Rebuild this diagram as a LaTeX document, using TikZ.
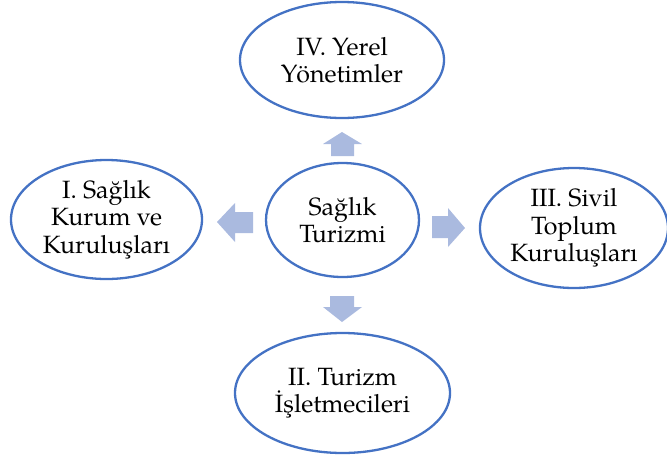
\documentclass[tikz,border=0pt]{standalone}
\usepackage{fontspec}
\setmainfont{texgyrepagella}[Extension=.otf,UprightFont=*-regular]
\usetikzlibrary{shapes.geometric}
\definecolor{ringblue}{HTML}{4472C4}
\definecolor{arrowfill}{HTML}{AABADF}
\tikzset{
  ring/.style={ellipse,draw=ringblue,line width=2.3pt,fill=white,inner sep=0pt,
    align=center,font=\fontsize{25}{27.5}\selectfont},
  blockarrow/.style={fill=arrowfill,draw=none}
}
\begin{document}
\begin{tikzpicture}[x=1pt,y=-1pt]
\useasboundingbox (0,0) rectangle (667,459);
\node[ring,minimum width=153,minimum height=114] (c) at (342.5,220) {Sağlık\\Turizmi};
\node[ring,minimum width=204,minimum height=116] (t) at (342,60) {IV. Yerel\\Yönetimler};
\node[ring,minimum width=191,minimum height=119] (l) at (106.5,219.5) {I. Sağlık\\Kurum ve\\Kuruluşları};
\node[ring,minimum width=188,minimum height=120] (r) at (574,228) {III. Sivil\\Toplum\\Kuruluşları};
\node[ring,minimum width=215,minimum height=120] (b) at (342.5,393) {II. Turizm\\İşletmecileri};
% up arrow
\fill[blockarrow] (342,132) -- (362,144) -- (354,144) -- (354,156) -- (331,156) -- (331,144) -- (323,144) -- cycle;
% left arrow
\fill[blockarrow] (217,222) -- (235,203) -- (235,212) -- (253,212) -- (253,233) -- (235,233) -- (235,242) -- cycle;
% right arrow
\fill[blockarrow] (465,228) -- (448,208) -- (448,216) -- (432,216) -- (432,238) -- (448,238) -- (448,247) -- cycle;
% down arrow
\fill[blockarrow] (342,322) -- (362,307) -- (354,307) -- (354,296) -- (330,296) -- (330,307) -- (323,307) -- cycle;
\end{tikzpicture}
\end{document}
